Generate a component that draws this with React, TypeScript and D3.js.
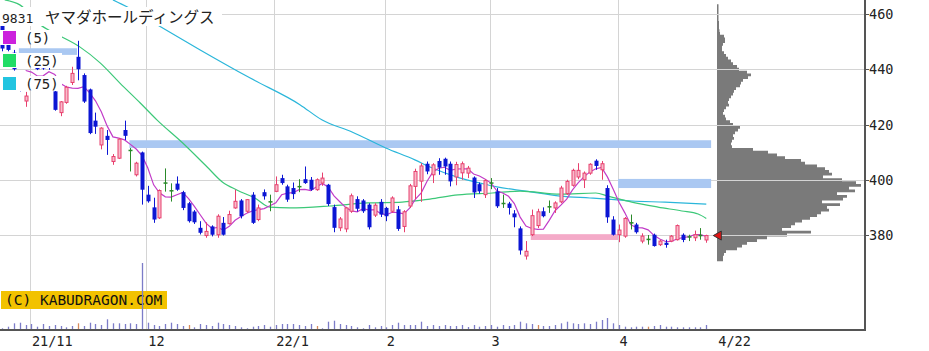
import * as d3 from 'd3';
import { useRef, useEffect } from 'react';

const WIDTH = 929;
const HEIGHT = 351;

// daily candles [open, high, low, close], 21/10/25 .. 22/4/22
const candles: [number, number, number, number][] = [
  [456, 457, 446.5, 447.5], [449, 451, 446.5, 447], [446, 447, 439.5, 440], [437, 437.5, 432, 433],
  [428.5, 431.8, 426.4, 430.3], [441, 445, 440.5, 444.5], [444, 445, 439.7, 440], [443.5, 444.5, 439.8, 440.3],
  [443, 444, 439.8, 440.5], [432, 432.5, 425, 425.3], [424.3, 428.5, 423, 428.2], [428, 434, 427.5, 433.5],
  [435.2, 440.9, 434.3, 438.5], [444.5, 450.3, 436, 440], [437.9, 438.5, 427.8, 428.3], [432.7, 433, 416.5, 416.9],
  [421.4, 424.3, 416.6, 419.2], [412.6, 419, 411, 418.7], [415.9, 418, 409, 414.4], [406.6, 409.3, 405.4, 408.4],
  [407.8, 415, 407.5, 414.7], [418, 421.4, 414.4, 415.9], [410.6, 411.5, 403, 410.6], [401.8, 406.5, 401.2, 406],
  [409.9, 410.2, 391, 396.4], [394.6, 397.8, 391.7, 392.2], [390, 393.5, 384.4, 385.6], [386.2, 396.5, 385.8, 396.1],
  [398.8, 404.1, 395.7, 398.8], [396, 398.7, 392.1, 396], [398.6, 401.2, 396, 396.4], [395.5, 396, 389, 389.8],
  [391.5, 392, 384.5, 385], [388.5, 389, 384, 384.6], [382.6, 385, 380.2, 380.8], [379.8, 384.6, 379, 381.3],
  [383.1, 383.5, 379.5, 380.1], [380.1, 387.5, 379, 386.8], [384.4, 386.5, 379.8, 380.1], [384.1, 388.8, 383.8, 387.4],
  [389.8, 396.4, 389.5, 392.2], [392.5, 393, 386, 386.8], [388.6, 393, 388, 392.8], [394.6, 395.5, 384, 384.4],
  [385.6, 391, 385, 389.8], [395.5, 396.5, 392.8, 394], [392, 394.6, 388.6, 392], [395.8, 401.2, 395.5, 398.2],
  [400.6, 401.8, 398.2, 398.8], [397.6, 398.2, 392, 392.8], [397, 399, 393, 394.8], [397.5, 400.2, 395.5, 397.5],
  [400.2, 404.8, 398.5, 398.8], [400, 401, 396, 396.4], [396.4, 400.5, 396, 400], [398.8, 402.6, 397.8, 400.6],
  [398.2, 398.5, 390.5, 391.2], [390.1, 391, 381, 382.6], [382.6, 386.5, 381.4, 385.8], [382.2, 390.2, 381, 389.8],
  [388.6, 395, 388, 394.2], [393, 394, 388.5, 389.5], [392.5, 393, 388, 388.6], [391, 391.5, 382, 382.8],
  [387.2, 391.5, 386.5, 390.8], [392, 393, 386.5, 387.4], [389.8, 390.2, 385, 386.8], [388.6, 394, 388, 393.4],
  [389.3, 390.5, 381.5, 382.2], [383.1, 389, 381, 388.4], [390.5, 398.5, 389.8, 397.8], [397.6, 404, 393, 403],
  [399.5, 406, 392, 405], [405.8, 406.6, 402, 403], [401.8, 406, 398.8, 405.4], [406.8, 407.8, 401.8, 404.4],
  [407.6, 408, 401.8, 404.8], [405.8, 406.6, 397.6, 399.4], [401, 406.5, 398, 405.5], [402.5, 406.6, 400, 405.8],
  [402.4, 405, 400.6, 404.2], [400.8, 401.2, 393.4, 395.4], [398.4, 399, 395, 395.8], [394.6, 400.2, 393.4, 399.7],
  [398.8, 400.6, 396.6, 398.8], [395.8, 397, 389.8, 390.4], [391.4, 394.6, 389.8, 391.4], [391.4, 392, 387.4, 389.8],
  [387.8, 389, 382.8, 386.4], [382.4, 383.1, 372.9, 374.4], [372.4, 377.8, 371.1, 374.1], [380.1, 389.2, 379.6, 387],
  [383.4, 389.5, 382.5, 388.4], [388.6, 390, 386.4, 386.8], [390.2, 392.5, 388, 390.2], [389.8, 392.2, 388, 391.6],
  [392, 397.8, 391.5, 397], [395, 400, 394.5, 399.4], [398, 404, 397.5, 403.4], [401, 406, 400.2, 403.4],
  [400, 403, 397, 402.4], [402.4, 406, 401.8, 405.6], [406.9, 407.4, 403.6, 405], [403.6, 406.8, 400, 405.8],
  [397, 398, 384.4, 386.4], [385.6, 386.8, 379.8, 380.1], [380.1, 383.8, 377.4, 381.8], [379.6, 386.5, 379, 386],
  [384.4, 387.4, 382, 384.4], [383.8, 384.4, 380.5, 381], [377.8, 380.6, 377, 379.6], [378.4, 380, 376.5, 378.4],
  [380.1, 380.5, 375.8, 376], [376.5, 378.3, 376, 377.8], [377.2, 378.3, 375.4, 376.4], [377.8, 380, 377.4, 379.6],
  [378.3, 383.8, 378, 383.4], [380.1, 380.6, 377.4, 378.2], [379.3, 380.1, 377.8, 379.3], [379, 381.6, 377.8, 380.1],
  [379.8, 382.5, 378.3, 379.8], [378.2, 380.1, 377.2, 379.8],
];

// daily volume (10k shares)
const volumes = [
  17, 33, 67, 73, 50, 60, 33, 60, 40, 50, 40, 27, 40, 67, 40, 73, 60, 50, 107, 67, 67, 60, 67, 60,
  670,
  73, 50, 40, 60, 73, 60, 40, 50, 27, 60, 50, 40, 73, 60, 50, 40, 27, 17, 33, 40,
  50, 33, 50, 60, 60, 60, 50, 40, 60, 40, 17, 83, 93, 60, 50, 40, 27, 17, 50, 27,
  40, 27, 50, 73, 50, 50, 50, 83, 40, 50, 40, 50, 40, 40, 50, 30,
  50, 33, 40, 50, 33, 50, 40, 50, 83, 67, 60, 50, 40, 40, 50, 67, 83, 67, 60, 67,
  60, 83, 100, 120, 67, 50, 33, 27, 33, 33, 33, 40, 50, 33, 33, 27, 27, 27, 27, 27, 50,
];
const unchangedVolumeDays = [13, 32, 54, 92, 111];

// moving averages: [day index, price]
const ma25: [number, number][] = [
  [0.4, 465.1], [3, 463.3], [6.5, 456.1], [9.6, 452.4], [13.3, 448.1], [16.8, 442.3], [20.2, 435],
  [23.7, 427.8], [26.6, 421.6], [31, 413.3], [35.2, 404.6], [37.8, 399.2], [40.3, 396.3], [43.4, 393.4],
  [46, 390.1], [49.4, 389.8], [56.3, 390.5], [62.8, 391.6], [68.7, 391.9], [73.5, 393], [78.3, 394.5],
  [84.2, 395.2], [89, 395.9], [95.9, 394.8], [102, 395.2], [104.1, 394.1], [108.2, 391.9], [112.7, 390.1],
  [116.8, 388.7], [119.6, 387.6], [121, 386],
];
const ma75: [number, number][] = [
  [19, 465.1], [21.4, 462.6], [26.6, 456.1], [34, 447], [42.6, 436.8], [51.2, 427.1], [54.9, 421.7],
  [60.1, 417.3], [65.9, 411.5], [70.9, 407.2], [73.5, 404.6], [78.7, 400.6], [82.1, 398.8], [85, 397.4],
  [90, 395.9], [95.9, 394.1], [101, 393.4], [103.9, 393], [108.2, 392.3], [113.9, 391.9], [121, 391.2],
];

const monthTicks = [
  { label: '21/11', index: 5 },
  { label: '12', index: 25 },
  { label: '22/1', index: 47 },
  { label: '2', index: 66 },
  { label: '3', index: 84 },
  { label: '4', index: 106 },
];
const lastDateLabel = '4/22';
const priceTicks = [380, 400, 420, 440, 460];

// price zones [from day, to day, low, high]
const resistZones: [number, number, number, number][] = [
  [22, 122, 411.5, 414.3],
  [3, 13, 445.2, 447.6],
  [106, 122, 397, 400.3],
];
const supportZones: [number, number, number, number][] = [[91, 106, 378.2, 380.3]];

// volume by price, one bin per yen from 463 down
const profileTop = 463;
const profileVolumes = [
  1.5, 1.5, 1.5, 1.5, 1.5, 1.5, 1.5, 2, 2, 2, 2.5, 3,
  7, 8, 8, 6, 5, 5, 7, 9, 11, 14, 16, 20, 22, 30, 34, 31, 26, 24, 23, 19, 17, 16,
  14, 12, 11, 12, 9, 7, 6, 8, 9, 13, 16, 23, 21, 18, 16, 17, 15, 14, 15,
  36, 51, 60, 68, 84, 88, 100, 108, 112, 115, 106, 125, 139, 144, 132, 138, 120, 130,
  126, 105, 123, 110, 112, 104, 100, 93, 85, 78, 74, 65, 94, 70, 50, 40, 30, 25, 20, 9, 7, 6,
];

const legend = [
  { label: '(5)', color: '#cc22dd' },
  { label: '(25)', color: '#22dd66' },
  { label: '(75)', color: '#22c4e0' },
];

const mono = '"DejaVu Sans Mono", monospace';

const App = () => {
  const ref = useRef<SVGSVGElement>(null);

  useEffect(() => {
    if (!ref.current) return;
    const svg = d3.select(ref.current);
    svg.selectAll('*').remove();

    const right = 865;
    const bottom = 330;
    const x = d3.scaleLinear().domain([0, candles.length - 1]).range([2.4, 706.3]);
    const y = d3.scaleLinear().domain([380, 460]).range([235, 14]);
    const yVol = d3.scaleLinear().domain([0, 700]).range([bottom, bottom - 70]);
    const xProf = d3.scaleLinear().domain([0, 150]).range([717, 867]);

    svg.append('rect').attr('width', WIDTH).attr('height', HEIGHT).attr('fill', '#fff');

    // volume profile, drawn as one stepped shape
    const profArea = d3.area<number>()
      .x0(xProf(0))
      .x1(d => xProf(d))
      .y((d, k) => y(profileTop - k + 0.5))
      .curve(d3.curveStepAfter);
    svg.append('path')
      .attr('d', profArea([...profileVolumes, profileVolumes[profileVolumes.length - 1]]))
      .attr('fill', '#7a7a7a');

    // grid
    const grid = svg.append('g').attr('stroke', '#d4d4d4').attr('shape-rendering', 'crispEdges');
    priceTicks.forEach(v => {
      grid.append('line').attr('x1', 0).attr('x2', right).attr('y1', Math.round(y(v)) + 0.5).attr('y2', Math.round(y(v)) + 0.5);
    });
    monthTicks.forEach(m => {
      const gx = Math.round(x(m.index) - 1.5) + 0.5;
      grid.append('line').attr('x1', gx).attr('x2', gx).attr('y1', 0).attr('y2', bottom);
    });

    // zones
    const zoneG = svg.append('g');
    const drawZone = (z: [number, number, number, number], color: string) => {
      zoneG.append('rect')
        .attr('x', x(z[0]) - 1).attr('width', x(z[1]) - x(z[0]))
        .attr('y', y(z[3])).attr('height', y(z[2]) - y(z[3]))
        .attr('fill', color);
    };
    resistZones.forEach(z => drawZone(z, '#aac8f2'));
    supportZones.forEach(z => drawZone(z, '#f4aac8'));

    // copyright badge
    svg.append('rect').attr('x', 1).attr('y', 291).attr('width', 166).attr('height', 18).attr('fill', '#f2c200');
    svg.append('text').attr('x', 5).attr('y', 305).attr('font-family', mono).attr('font-size', 14.5)
      .attr('fill', '#111').text('(C) KABUDRAGON.COM');

    // volume
    svg.append('g').selectAll('line').data(volumes).join('line')
      .attr('x1', (d, i) => Math.round(x(i)) + 0.5).attr('x2', (d, i) => Math.round(x(i)) + 0.5)
      .attr('y1', bottom).attr('y2', d => yVol(d))
      .attr('stroke', (d, i) => (unchangedVolumeDays.includes(i) ? '#d88a5c' : '#7c7cc8'))
      .attr('stroke-width', 1.3);

    // moving averages
    const closes = candles.map(c => c[3]);
    const ma5: [number, number][] = [];
    for (let i = 4; i < closes.length; i++) ma5.push([i, d3.mean(closes.slice(i - 4, i + 1)) as number]);
    const line = d3.line<[number, number]>().x(d => x(d[0])).y(d => y(d[1])).curve(d3.curveMonotoneX);
    const maG = svg.append('g').attr('fill', 'none').attr('stroke-width', 1.2);
    maG.append('path').attr('d', line(ma75)).attr('stroke', '#2ab6da');
    maG.append('path').attr('d', line(ma25)).attr('stroke', '#3cc878');
    maG.append('path').attr('d', d3.line<[number, number]>().x(d => x(d[0])).y(d => y(d[1]))(ma5)).attr('stroke', '#c23cc8');

    // candles
    const cg = svg.append('g');
    candles.forEach(([o, h, l, c], i) => {
      const px = Math.round(x(i));
      const color = c > o ? '#e8406e' : c < o ? '#0c16d4' : '#2a8a2a';
      cg.append('line').attr('x1', px + 0.5).attr('x2', px + 0.5).attr('y1', y(h)).attr('y2', y(l))
        .attr('stroke', color).attr('stroke-width', 1);
      const top = y(Math.max(o, c));
      const hgt = Math.max(1, y(Math.min(o, c)) - top);
      if (c > o) {
        cg.append('rect').attr('x', px - 1).attr('y', top).attr('width', 3).attr('height', hgt)
          .attr('fill', '#f7bccb').attr('stroke', color).attr('stroke-width', 1);
      } else if (c < o) {
        cg.append('rect').attr('x', px - 1.5).attr('y', top).attr('width', 4).attr('height', hgt).attr('fill', color);
      } else {
        cg.append('line').attr('x1', px - 1.5).attr('x2', px + 2.5).attr('y1', y(o)).attr('y2', y(o))
          .attr('stroke', color).attr('stroke-width', 1.5);
      }
    });

    // last price marker
    const lx = x(candles.length - 1) + 7;
    const ly = y(closes[closes.length - 1]);
    svg.append('path').attr('d', `M${lx},${ly}L${lx + 8},${ly - 4.5}L${lx + 8},${ly + 4.5}Z`)
      .attr('fill', '#e01414').attr('stroke', '#333').attr('stroke-width', 1);

    // axes
    const axis = svg.append('g').attr('stroke', '#555').attr('shape-rendering', 'crispEdges');
    axis.append('line').attr('x1', right).attr('x2', right).attr('y1', 0).attr('y2', bottom + 1).attr('stroke-width', 2);
    axis.append('line').attr('x1', 0).attr('x2', right + 1).attr('y1', bottom).attr('y2', bottom).attr('stroke-width', 2);
    priceTicks.forEach(v => {
      axis.append('line').attr('x1', right).attr('x2', right + 4).attr('y1', Math.round(y(v)) + 0.5).attr('y2', Math.round(y(v)) + 0.5);
    });

    const labels = svg.append('g').attr('font-family', mono).attr('fill', '#222');
    priceTicks.forEach(v => {
      labels.append('text').attr('x', 869).attr('y', y(v) + 5).attr('font-size', 13.5).text(v);
    });
    monthTicks.forEach(m => {
      labels.append('text').attr('x', x(m.index) + 0.5).attr('y', 346).attr('font-size', 13.5).text(m.label);
    });
    labels.append('text').attr('x', x(candles.length - 1) + 12).attr('y', 346).attr('font-size', 13.5).text(lastDateLabel);

    // title
    svg.append('rect').attr('x', 0).attr('y', 7).attr('width', 222).attr('height', 19).attr('fill', '#fff');
    const title = svg.append('text').attr('x', 2).attr('y', 23).attr('fill', '#222');
    title.append('tspan').attr('font-family', mono).attr('font-size', 13).text('9831');
    title.append('tspan').attr('x', 45).attr('font-family', '"Noto Sans CJK JP", sans-serif').attr('font-size', 15.5)
      .text('ヤマダホールディングス');

    // legend
    legend.forEach((item, k) => {
      const ty = 31 + k * 23;
      svg.append('rect').attr('x', 0).attr('y', ty - 1).attr('width', 62).attr('height', 15).attr('fill', '#fff');
      svg.append('rect').attr('x', 3).attr('y', ty).attr('width', 13).attr('height', 13).attr('fill', item.color);
      svg.append('text').attr('x', 25).attr('y', ty + 12).attr('font-family', mono).attr('font-size', 14)
        .attr('fill', '#222').text(item.label);
    });
  }, []);

  return (
    <svg ref={ref} width={WIDTH} height={HEIGHT}
      style={{ position: 'absolute', left: 0, top: 0, display: 'block' }} />
  );
};

export default App;
